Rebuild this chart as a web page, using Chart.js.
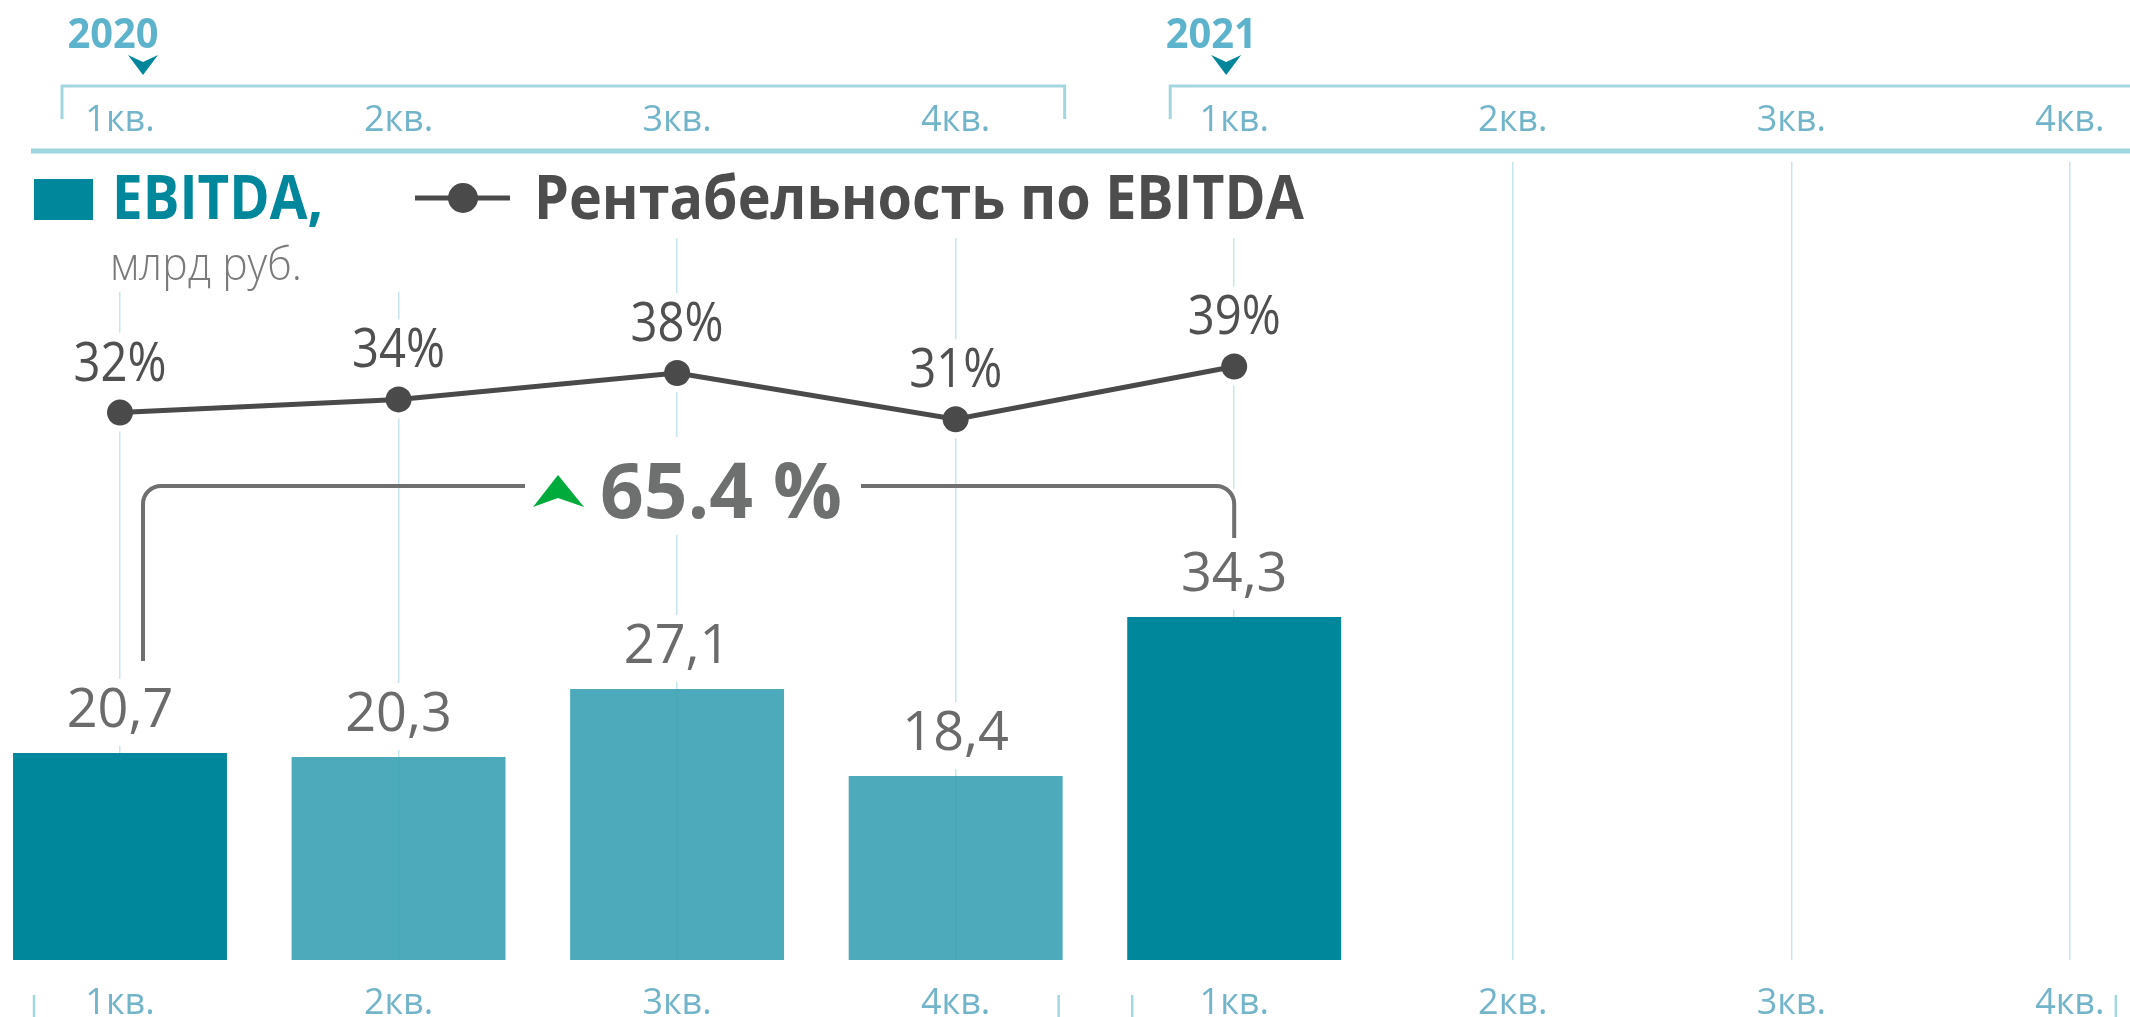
<!DOCTYPE html>
<html lang="ru">
<head>
<meta charset="UTF-8">
<title>EBITDA и рентабельность по EBITDA</title>
<script src="https://cdn.jsdelivr.net/npm/chart.js"></script>
<style>
  html, body { margin: 0; padding: 0; background: #fff; }
  #ebitda-chart { display: block; }
</style>
</head>
<body>
<canvas id="ebitda-chart" width="2130" height="1017"></canvas>
<script>
// данные
const quarters = ['1кв.', '2кв.', '3кв.', '4кв.', '1кв.', '2кв.', '3кв.', '4кв.'];
const years = ['2020', '2021'];
const ebitda = [20.7, 20.3, 27.1, 18.4, 34.3, null, null, null];   // млрд руб.
const margin = [32, 34, 38, 31, 39, null, null, null];             // %
const growth = '65.4 %';

const DARK = '#00879c';
const LIGHT = 'rgba(58,161,179,0.9)';
const GRID = '#c6e5ec';
const PALE = '#a3d7e0';
const AXIS_TEXT = '#72b4c9';
const LINE = '#4a4a4a';

// текст с подгонкой ширины (шрифт в оригинале узкий)
function drawText(ctx, str, x, y, font, color, align, width) {
    ctx.save();
    ctx.font = font;
    ctx.fillStyle = color;
    ctx.textBaseline = 'alphabetic';
    ctx.textAlign = 'left';
    const w = ctx.measureText(str).width;
    const sx = width ? width / w : 1;
    const x0 = align === 'center' ? x - w * sx / 2 : (align === 'right' ? x - w * sx : x);
    ctx.translate(x0, y);
    ctx.scale(sx, 1);
    ctx.fillText(str, 0, 0);
    ctx.restore();
}

const decor = {
    id: 'decor',
    beforeDatasetsDraw(chart) {
        const ctx = chart.ctx;
        const xs = chart.scales.x, yb = chart.scales.y, yl = chart.scales.y1;
        ctx.save();
        ctx.fillStyle = '#fff';
        // белые подложки под легенду и подписи (перекрывают сетку)
        ctx.fillRect(0, 150, 1320, 88);
        ctx.fillRect(0, 150, 420, 142);
        margin.forEach((v, i) => {
            if (v == null) return;
            const x = xs.getPixelForValue(i), y = yl.getPixelForValue(v);
            ctx.fillRect(x - 60, y - 80, 120, 99);
        });
        ebitda.forEach((v, i) => {
            if (v == null) return;
            const x = xs.getPixelForValue(i), top = yb.getPixelForValue(v);
            ctx.fillRect(x - 62, top - 74, 124, 67);
        });
        const c4 = xs.getPixelForValue(4);
        ctx.fillRect(c4 - 22, 489, 44, 60);
        ctx.fillRect(590, 437, 262, 98);
        ctx.restore();
    },
    afterDatasetsDraw(chart) {
        const ctx = chart.ctx;
        const xs = chart.scales.x, yb = chart.scales.y, yl = chart.scales.y1;
        const c0 = xs.getPixelForValue(0), c3 = xs.getPixelForValue(3), c4 = xs.getPixelForValue(4), c7 = xs.getPixelForValue(7);

        // подписи значений
        ebitda.forEach((v, i) => {
            if (v == null) return;
            const label = v.toFixed(1).replace('.', ',');
            drawText(ctx, label, xs.getPixelForValue(i), yb.getPixelForValue(v) - 26, '54px "Open Sans"', '#6b6b6b', 'center');
        });
        margin.forEach((v, i) => {
            if (v == null) return;
            drawText(ctx, v + '%', xs.getPixelForValue(i), yl.getPixelForValue(v) - 32, '55px "Open Sans"', '#505050', 'center', 93);
        });

        // скобка роста
        ctx.save();
        ctx.strokeStyle = '#707070';
        ctx.lineWidth = 4;
        const by = 486, r = 18;
        const lx = c0 + 23, lBottom = yb.getPixelForValue(ebitda[0]) - 92;
        const rBottom = yb.getPixelForValue(ebitda[4]) - 79;
        ctx.beginPath();
        ctx.moveTo(lx, lBottom);
        ctx.lineTo(lx, by + r);
        ctx.arcTo(lx, by, lx + r, by, r);
        ctx.lineTo(525, by);
        ctx.moveTo(861, by);
        ctx.lineTo(c4 - r, by);
        ctx.arcTo(c4, by, c4, by + r, r);
        ctx.lineTo(c4, rBottom);
        ctx.stroke();
        ctx.fillStyle = '#00ab3c';
        ctx.beginPath();
        ctx.moveTo(558, 475);
        ctx.lineTo(584, 507);
        ctx.lineTo(558, 498);
        ctx.lineTo(533, 507);
        ctx.closePath();
        ctx.fill();
        ctx.restore();
        drawText(ctx, growth, 600, 518, 'bold 77px "Open Sans"', '#6d706f', 'left', 242);

        // легенда
        ctx.save();
        ctx.fillStyle = DARK;
        ctx.fillRect(34, 179, 59, 41);
        ctx.strokeStyle = LINE;
        ctx.lineWidth = 5;
        ctx.beginPath();
        ctx.moveTo(415, 198);
        ctx.lineTo(510, 198);
        ctx.stroke();
        ctx.fillStyle = LINE;
        ctx.beginPath();
        ctx.arc(463, 198, 15, 0, Math.PI * 2);
        ctx.fill();
        ctx.restore();
        drawText(ctx, 'EBITDA,', 112, 219, 'bold 60px "Open Sans"', DARK, 'left', 211);
        drawText(ctx, 'Рентабельность по EBITDA', 534, 219, 'bold 60px "Open Sans"', '#4d4d4d', 'left', 770);
        drawText(ctx, 'млрд руб.', 110, 280, '300 46px "Open Sans"', '#7a7a7a', 'left', 192);

        // шапка: годы, стрелки, скобки
        ctx.save();
        ctx.strokeStyle = PALE;
        ctx.lineWidth = 3;
        ctx.beginPath();
        ctx.moveTo(c0 - 58, 119); ctx.lineTo(c0 - 58, 86); ctx.lineTo(c3 + 109, 86); ctx.lineTo(c3 + 109, 119);
        ctx.moveTo(c4 - 64, 119); ctx.lineTo(c4 - 64, 86); ctx.lineTo(2130, 86);
        ctx.stroke();
        ctx.strokeStyle = '#9fd5de';
        ctx.lineWidth = 5;
        ctx.beginPath();
        ctx.moveTo(31, 151); ctx.lineTo(2130, 151);
        ctx.stroke();
        // засечки внизу
        ctx.strokeStyle = PALE;
        ctx.lineWidth = 2.5;
        ctx.beginPath();
        [c0 - 86, c3 + 103, c4 - 102, c7 + 46].forEach(x => { ctx.moveTo(x, 995); ctx.lineTo(x, 1017); });
        ctx.stroke();
        ctx.fillStyle = '#00869b';
        [c0 + 23, c4 - 8].forEach(tx => {
            ctx.beginPath();
            ctx.moveTo(tx, 75);
            ctx.lineTo(tx - 15, 55);
            ctx.lineTo(tx, 62);
            ctx.lineTo(tx + 15, 55);
            ctx.closePath();
            ctx.fill();
        });
        ctx.restore();
        drawText(ctx, years[0], c0 - 7, 48, 'bold 42px "Open Sans"', '#5db3cb', 'center', 91);
        drawText(ctx, years[1], c4 - 23, 48, 'bold 42px "Open Sans"', '#5db3cb', 'center', 91);
    }
};

const tickFont = { family: 'Open Sans', size: 36, lineHeight: 1 };

new Chart(document.getElementById('ebitda-chart'), {
    data: {
        labels: quarters,
        datasets: [
            {
                type: 'line',
                label: 'Рентабельность по EBITDA',
                data: margin,
                yAxisID: 'y1',
                order: 0,
                borderColor: LINE,
                borderWidth: 5,
                tension: 0,
                pointRadius: 13,
                pointBorderWidth: 0,
                pointBackgroundColor: LINE,
                spanGaps: false
            },
            {
                type: 'bar',
                label: 'EBITDA',
                data: ebitda,
                yAxisID: 'y',
                order: 1,
                clip: false,
                backgroundColor: c => quarters[c.dataIndex] === '1кв.' ? DARK : LIGHT,
                borderWidth: 0,
                barPercentage: 0.768,
                categoryPercentage: 1
            }
        ]
    },
    options: {
        responsive: false,
        animation: false,
        devicePixelRatio: 1,
        // ось берёт 2*padding + высоту подписи, поэтому снизу отрицательный отступ
        layout: { padding: { left: 120, right: 57, top: 79, bottom: -30 } },
        plugins: { legend: { display: false }, tooltip: { enabled: false } },
        scales: {
            x: {
                type: 'category',
                position: 'bottom',
                offset: false,
                grid: { color: GRID, lineWidth: 1.5, drawTicks: false, offset: false },
                border: { display: false },
                ticks: { color: AXIS_TEXT, font: tickFont, padding: 25.5, maxRotation: 0, autoSkip: false }
            },
            xTop: {
                type: 'category',
                position: 'top',
                offset: false,
                grid: { display: false, drawTicks: false },
                border: { display: false },
                ticks: { color: AXIS_TEXT, font: tickFont, padding: 23.5, maxRotation: 0, autoSkip: false }
            },
            y: { display: false, min: 0, max: 79.8 },
            y1: { display: false, min: -51, max: 70 }
        }
    },
    plugins: [decor]
});
</script>
</body>
</html>
